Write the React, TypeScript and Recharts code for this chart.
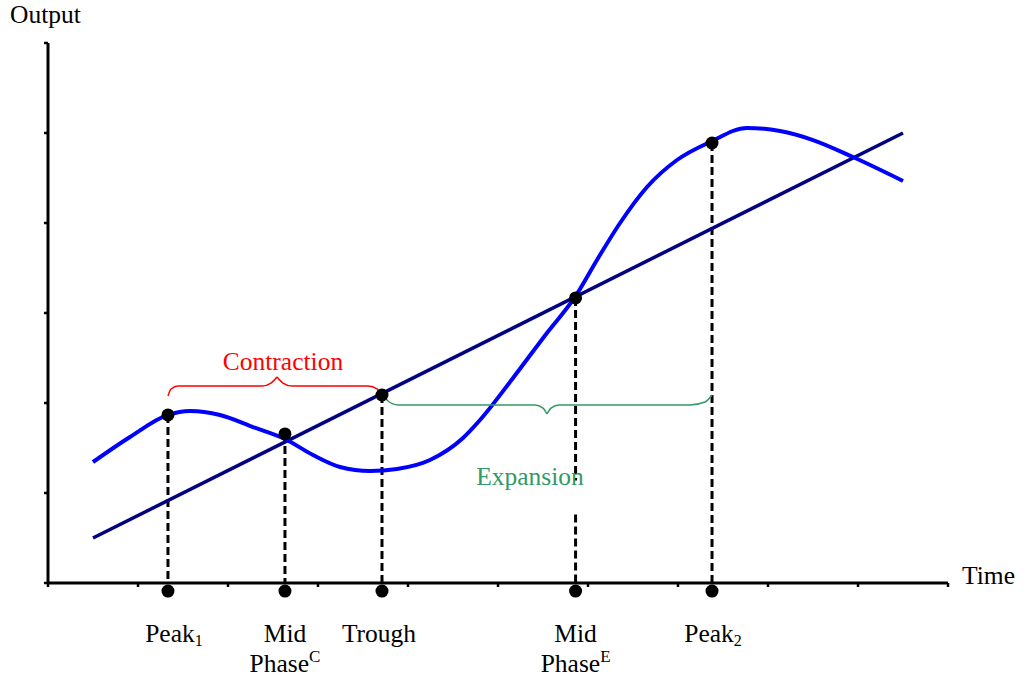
import React from "react";
import { LineChart, Line, XAxis, YAxis, ReferenceDot, ReferenceLine } from "recharts";

// axis ticks (time units, output units)
const xTicks = [0, 1, 2, 3, 4, 5, 6, 7, 8, 9, 10];
const yTicks = [0, 1, 2, 3, 4, 5, 6];

// actual output over time
const cycleTime = [0.5, 0.911, 1.333, 1.578, 1.911, 2.278, 2.633, 2.944, 3.244, 3.578, 3.878, 4.244, 4.611, 4.8, 5.167, 5.544, 5.856, 6.1, 6.356, 6.656, 6.989, 7.356, 7.767, 8.133, 8.5, 8.944, 9.5];
const cycleOutput = [1.344, 1.622, 1.867, 1.911, 1.867, 1.733, 1.6, 1.422, 1.289, 1.244, 1.267, 1.367, 1.611, 1.811, 2.278, 2.778, 3.178, 3.589, 4.0, 4.4, 4.7, 4.9, 5.056, 5.022, 4.922, 4.733, 4.467];

// trend output
const trendTime = [0.5, 9.5];
const trendOutput = [0.5, 5.0];

// phases of the cycle
const phaseTime = [1.333, 2.633, 3.711, 5.862, 7.378];
const phaseOutput = [1.867, 1.656, 2.089, 3.167, 4.889];
const phaseLabels = [
  { top: "Peak", sub: "1" },
  { top: "Mid", bottom: "Phase", sup: "C" },
  { top: "Trough" },
  { top: "Mid", bottom: "Phase", sup: "E" },
  { top: "Peak", sub: "2" },
];

// brace outlines
const contractionLeftTime = [1.333, 1.367, 1.444, 2.378, 2.478, 2.544];
const contractionLeftOutput = [2.078, 2.156, 2.189, 2.189, 2.222, 2.289];
const contractionRightTime = [2.544, 2.611, 2.711, 3.556, 3.656, 3.7];
const contractionRightOutput = [2.289, 2.222, 2.189, 2.189, 2.156, 2.078];
const expansionLeftTime = [3.711, 3.778, 3.889, 5.411, 5.5, 5.544];
const expansionLeftOutput = [2.1, 2.022, 1.978, 1.978, 1.944, 1.878];
const expansionRightTime = [5.544, 5.589, 5.678, 7.133, 7.3, 7.378];
const expansionRightOutput = [1.878, 1.944, 1.978, 1.978, 2.011, 2.089];

const toRows = (t: number[], v: number[]) => t.map((x, i) => ({ t: x, v: v[i] }));

const FONT = "'Liberation Serif', 'Times New Roman', serif";
const FONT_SIZE = 25.5;
const GREEN = "#339966";
const AXIS_DOT_Y = -0.09;
const labelNudge = [6, 0, -3, 0, 1];
const expansionGap = [0.76, 1.14];

const NoTickText = () => <g />;

function FreeText(props: any) {
  const { viewBox, text, color = "#000", anchor = "middle" } = props;
  if (!viewBox) return null;
  const x = viewBox.x + viewBox.width / 2;
  const y = viewBox.y + viewBox.height / 2;
  return (
    <text x={x} y={y} textAnchor={anchor} fill={color} fontSize={FONT_SIZE} fontFamily={FONT}>
      {text}
    </text>
  );
}

function PhaseText(props: any) {
  const { viewBox, item, dx = 0 } = props;
  if (!viewBox) return null;
  const x = viewBox.x + viewBox.width / 2 + dx;
  const y = viewBox.y + viewBox.height / 2;
  return (
    <g fontFamily={FONT} fill="#000">
      <text x={x} y={y + 51} textAnchor="middle" fontSize={FONT_SIZE}>
        {item.top}
        {item.sub && (
          <tspan fontSize={16} dy={4}>
            {item.sub}
          </tspan>
        )}
      </text>
      {item.bottom && (
        <text x={x} y={y + 81} textAnchor="middle" fontSize={FONT_SIZE}>
          {item.bottom}
          <tspan fontSize={17} dy={-10}>
            {item.sup}
          </tspan>
        </text>
      )}
    </g>
  );
}

export default function App() {
  const dash = { stroke: "#000", strokeWidth: 3, strokeDasharray: "8 4" };
  return (
    <div style={{ position: "absolute", left: 0, top: 0 }}>
      <LineChart width={1024} height={680} margin={{ top: 43, right: 76, left: 47, bottom: 96 }}>
        <XAxis
          type="number"
          dataKey="t"
          domain={[0, 10]}
          ticks={xTicks}
          tick={NoTickText}
          height={1}
          tickSize={4}
          axisLine={{ stroke: "#000", strokeWidth: 3 }}
          tickLine={{ stroke: "#000", strokeWidth: 2.5 }}
        />
        <YAxis
          type="number"
          domain={[0, 6]}
          ticks={yTicks}
          tick={NoTickText}
          width={1}
          tickSize={4}
          axisLine={{ stroke: "#000", strokeWidth: 3 }}
          tickLine={{ stroke: "#000", strokeWidth: 2.5 }}
        />

        {phaseTime.map((t, i) =>
          i === 3 ? (
            <React.Fragment key={`dash-${i}`}>
              <ReferenceLine segment={[{ x: t, y: phaseOutput[i] }, { x: t, y: expansionGap[1] }]} {...dash} />
              <ReferenceLine segment={[{ x: t, y: expansionGap[0] }, { x: t, y: 0 }]} {...dash} />
            </React.Fragment>
          ) : (
            <ReferenceLine key={`dash-${i}`} segment={[{ x: t, y: phaseOutput[i] }, { x: t, y: 0 }]} {...dash} />
          )
        )}

        <Line data={toRows(trendTime, trendOutput)} dataKey="v" type="linear" stroke="#000080" strokeWidth={3.5} dot={false} isAnimationActive={false} />
        <Line data={toRows(cycleTime, cycleOutput)} dataKey="v" type="monotone" stroke="#0000FF" strokeWidth={4} dot={false} isAnimationActive={false} />

        <Line data={toRows(contractionLeftTime, contractionLeftOutput)} dataKey="v" type="monotone" stroke="#FF0000" strokeWidth={1.5} dot={false} isAnimationActive={false} />
        <Line data={toRows(contractionRightTime, contractionRightOutput)} dataKey="v" type="monotone" stroke="#FF0000" strokeWidth={1.5} dot={false} isAnimationActive={false} />
        <Line data={toRows(expansionLeftTime, expansionLeftOutput)} dataKey="v" type="monotone" stroke={GREEN} strokeWidth={1.5} dot={false} isAnimationActive={false} />
        <Line data={toRows(expansionRightTime, expansionRightOutput)} dataKey="v" type="monotone" stroke={GREEN} strokeWidth={1.5} dot={false} isAnimationActive={false} />

        {phaseTime.map((t, i) => (
          <ReferenceDot key={`pt-${i}`} x={t} y={phaseOutput[i]} r={6.5} fill="#000" stroke="none" ifOverflow="visible" />
        ))}
        {phaseTime.map((t, i) => (
          <ReferenceDot
            key={`ax-${i}`}
            x={t}
            y={AXIS_DOT_Y}
            r={6.5}
            fill="#000"
            stroke="none"
            ifOverflow="visible"
            label={<PhaseText item={phaseLabels[i]} dx={labelNudge[i]} />}
          />
        ))}

        <ReferenceDot x={2.611} y={2.367} r={0} ifOverflow="visible" label={<FreeText text="Contraction" color="#FF0000" />} />
        <ReferenceDot x={5.356} y={1.089} r={0} ifOverflow="visible" label={<FreeText text="Expansion" color={GREEN} />} />
        <ReferenceDot x={-0.422} y={6.222} r={0} ifOverflow="visible" label={<FreeText text="Output" anchor="start" />} />
        <ReferenceDot x={10.156} y={-0.01} r={0} ifOverflow="visible" label={<FreeText text="Time" anchor="start" />} />
      </LineChart>
    </div>
  );
}
